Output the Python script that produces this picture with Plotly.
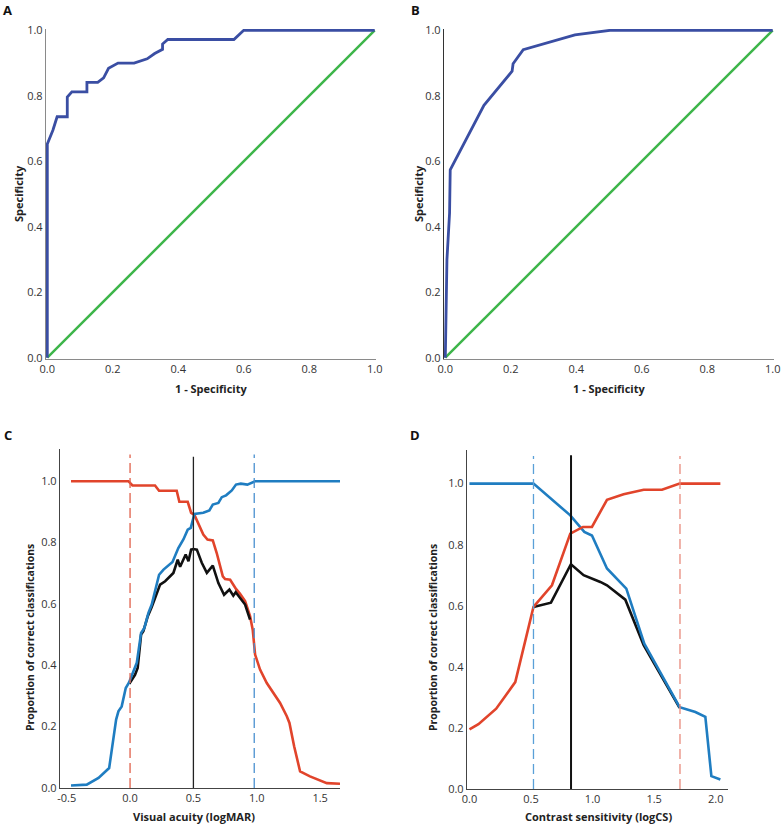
import plotly.graph_objects as go

# ---------------- Panel A (ROC) ----------------
a_x = [0.0, 0.0, 0.017, 0.030, 0.061, 0.061, 0.075, 0.121, 0.121, 0.154, 0.172, 0.187,
       0.216, 0.265, 0.305, 0.328, 0.352, 0.352, 0.368, 0.570, 0.600, 1.0]
a_y = [0.0, 0.653, 0.695, 0.736, 0.736, 0.796, 0.812, 0.812, 0.841, 0.841, 0.855, 0.884,
       0.900, 0.900, 0.913, 0.929, 0.942, 0.958, 0.972, 0.972, 1.0, 1.0]

# ---------------- Panel B (ROC) ----------------
b_x = [0.0, 0.005, 0.013, 0.015, 0.118, 0.204, 0.207, 0.238, 0.396, 0.503, 1.0]
b_y = [0.0, 0.30, 0.442, 0.574, 0.771, 0.875, 0.898, 0.941, 0.986, 1.0, 1.0]

ref_x = [0.0, 1.0]
ref_y = [0.0, 1.0]

# ---------------- Panel C (visual acuity, logMAR) ----------------
c_blue_x = [-0.466, -0.342, -0.249, -0.165, -0.110, -0.092, -0.066, -0.034, -0.008, 0.053,
            0.087, 0.113, 0.145, 0.171, 0.229, 0.264, 0.335, 0.381, 0.421, 0.455, 0.479,
            0.508, 0.578, 0.626, 0.653, 0.697, 0.724, 0.758, 0.803, 0.836, 0.874, 0.926,
            0.987, 1.657]
c_blue_y = [0.008, 0.011, 0.033, 0.065, 0.223, 0.250, 0.266, 0.326, 0.344, 0.408,
            0.505, 0.522, 0.571, 0.598, 0.695, 0.712, 0.737, 0.782, 0.810, 0.842, 0.848,
            0.893, 0.897, 0.905, 0.924, 0.929, 0.948, 0.954, 0.970, 0.989, 0.992, 0.989,
            1.0, 1.0]

c_red_x = [-0.466, -0.013, 0.019, 0.197, 0.229, 0.368, 0.389, 0.455, 0.482, 0.508, 0.578,
           0.611, 0.653, 0.684, 0.732, 0.750, 0.790, 0.836, 0.868, 0.908, 0.947, 0.968,
           0.987, 1.026, 1.079, 1.144, 1.184, 1.237, 1.258, 1.295, 1.342, 1.420, 1.553, 1.657]
c_red_y = [1.0, 1.0, 0.986, 0.986, 0.969, 0.969, 0.933, 0.933, 0.897, 0.890, 0.826,
           0.810, 0.807, 0.766, 0.690, 0.681, 0.679, 0.649, 0.633, 0.609, 0.560, 0.516,
           0.435, 0.386, 0.342, 0.299, 0.277, 0.234, 0.212, 0.136, 0.054, 0.038, 0.016, 0.014]

c_black_x = [-0.006, 0.039, 0.060, 0.087, 0.105, 0.140, 0.171, 0.237, 0.277, 0.342, 0.376,
             0.395, 0.439, 0.461, 0.482, 0.499, 0.527, 0.566, 0.606, 0.653, 0.697, 0.742,
             0.784, 0.815, 0.834, 0.868, 0.908, 0.947]
c_black_y = [0.340, 0.369, 0.391, 0.500, 0.511, 0.560, 0.590, 0.663, 0.674, 0.701, 0.744,
             0.721, 0.761, 0.739, 0.777, 0.779, 0.777, 0.734, 0.701, 0.725, 0.668, 0.630,
             0.647, 0.627, 0.638, 0.619, 0.598, 0.549]

c_thresholds = [0.0, 0.5, 0.98]   # red dashed, black solid, blue dashed

# ---------------- Panel D (contrast sensitivity, logCS) ----------------
d_blue_x = [0.0, 0.52, 0.819, 0.933, 0.995, 1.117, 1.274, 1.420, 1.707, 1.835, 1.916, 1.965, 2.038]
d_blue_y = [1.0, 1.0, 0.896, 0.842, 0.830, 0.722, 0.656, 0.476, 0.268, 0.252, 0.236, 0.042, 0.031]

d_red_x = [0.0, 0.073, 0.217, 0.372, 0.52, 0.670, 0.819, 0.922, 0.995, 1.117, 1.252, 1.415,
           1.564, 1.707, 2.038]
d_red_y = [0.195, 0.212, 0.263, 0.350, 0.596, 0.667, 0.836, 0.858, 0.858, 0.947, 0.965, 0.980,
           0.980, 1.0, 1.0]

d_black_x = [0.52, 0.662, 0.824, 0.927, 1.063, 1.117, 1.266, 1.415, 1.707]
d_black_y = [0.596, 0.610, 0.736, 0.700, 0.678, 0.667, 0.620, 0.471, 0.266]

d_thresholds = [0.52, 0.825, 1.71]   # blue dashed, black solid, red dashed

roc_ticks = [0.0, 0.2, 0.4, 0.6, 0.8, 1.0]
prop_ticks = [0.0, 0.2, 0.4, 0.6, 0.8, 1.0]
c_xticks = [-0.5, 0.0, 0.5, 1.0, 1.5]
d_xticks = [0.0, 0.5, 1.0, 1.5, 2.0]

ROC_BLUE = "#3a4ea3"
GREEN = "#3db54a"
BLUE = "#1f7dc1"
RED = "#e1442b"
BLACK = "#111111"
FONT = "Open Sans"

W, H = 784, 826


def px(v):
    return v / W


def py(v):
    return 1 - v / H


def fmt(vals):
    return ["%.1f" % v for v in vals]


fig = go.Figure()

# A
fig.add_trace(go.Scatter(x=ref_x, y=ref_y, mode="lines", line=dict(color=GREEN, width=2.5),
                         xaxis="x", yaxis="y", showlegend=False))
fig.add_trace(go.Scatter(x=a_x, y=a_y, mode="lines", line=dict(color=ROC_BLUE, width=2.8),
                         xaxis="x", yaxis="y", showlegend=False))
# B
fig.add_trace(go.Scatter(x=ref_x, y=ref_y, mode="lines", line=dict(color=GREEN, width=2.5),
                         xaxis="x2", yaxis="y2", showlegend=False))
fig.add_trace(go.Scatter(x=b_x, y=b_y, mode="lines", line=dict(color=ROC_BLUE, width=2.8),
                         xaxis="x2", yaxis="y2", showlegend=False))
# C
fig.add_trace(go.Scatter(x=c_red_x, y=c_red_y, mode="lines", line=dict(color=RED, width=2.6),
                         xaxis="x3", yaxis="y3", showlegend=False))
fig.add_trace(go.Scatter(x=c_black_x, y=c_black_y, mode="lines", line=dict(color=BLACK, width=2.6),
                         xaxis="x3", yaxis="y3", showlegend=False))
fig.add_trace(go.Scatter(x=c_blue_x, y=c_blue_y, mode="lines", line=dict(color=BLUE, width=2.6),
                         xaxis="x3", yaxis="y3", showlegend=False))
# D
fig.add_trace(go.Scatter(x=d_black_x, y=d_black_y, mode="lines", line=dict(color=BLACK, width=2.6),
                         xaxis="x4", yaxis="y4", showlegend=False))
fig.add_trace(go.Scatter(x=d_blue_x, y=d_blue_y, mode="lines", line=dict(color=BLUE, width=2.6),
                         xaxis="x4", yaxis="y4", showlegend=False))
fig.add_trace(go.Scatter(x=d_red_x, y=d_red_y, mode="lines", line=dict(color=RED, width=2.6),
                         xaxis="x4", yaxis="y4", showlegend=False))

# threshold lines
shapes = [
    dict(type="line", xref="x3", yref="y3", x0=c_thresholds[0], x1=c_thresholds[0], y0=0, y1=1.087,
         line=dict(color="#e0604a", width=1.3, dash="10px,5px")),
    dict(type="line", xref="x3", yref="y3", x0=c_thresholds[1], x1=c_thresholds[1], y0=0, y1=1.08,
         line=dict(color="#222222", width=1.3)),
    dict(type="line", xref="x3", yref="y3", x0=c_thresholds[2], x1=c_thresholds[2], y0=0, y1=1.087,
         line=dict(color="#4a90d0", width=1.3, dash="10px,5px")),
    dict(type="line", xref="x4", yref="y4", x0=d_thresholds[0], x1=d_thresholds[0], y0=0, y1=1.09,
         line=dict(color="#5aa0d8", width=1.3, dash="10px,5px")),
    dict(type="line", xref="x4", yref="y4", x0=d_thresholds[1], x1=d_thresholds[1], y0=0, y1=1.093,
         line=dict(color="#111111", width=2)),
    dict(type="line", xref="x4", yref="y4", x0=d_thresholds[2], x1=d_thresholds[2], y0=0, y1=1.09,
         line=dict(color="#e88a7c", width=1.3, dash="10px,5px")),
]

tickfont = dict(family=FONT, size=11, color="#333333")
axcommon = dict(showgrid=False, zeroline=False, ticks="", showline=True, linewidth=1.3,
                tickfont=tickfont, automargin=False)

fig.update_layout(
    width=W, height=H, margin=dict(l=0, r=0, t=0, b=0),
    paper_bgcolor="white", plot_bgcolor="white",
    shapes=shapes,
    xaxis=dict(domain=[px(46), px(376)], range=[-0.004, 1.004], tickvals=roc_ticks,
               ticktext=fmt(roc_ticks), linecolor="#8a8a8a", anchor="y", **axcommon),
    yaxis=dict(domain=[py(359), py(29)], range=[-0.004, 1.004], tickvals=roc_ticks,
               ticktext=fmt(roc_ticks), linecolor="#8a8a8a", anchor="x", **axcommon),
    xaxis2=dict(domain=[px(444), px(774)], range=[-0.004, 1.004], tickvals=roc_ticks,
                ticktext=fmt(roc_ticks), linecolor="#8a8a8a", anchor="y2", **axcommon),
    yaxis2=dict(domain=[py(359), py(29)], range=[-0.004, 1.004], tickvals=roc_ticks,
                ticktext=fmt(roc_ticks), linecolor="#333333", anchor="x2", **axcommon),
    xaxis3=dict(domain=[px(60), px(340)], range=[-0.553, 1.657], tickvals=c_xticks,
                ticktext=fmt(c_xticks), linecolor="#444444", anchor="y3", **axcommon),
    yaxis3=dict(domain=[py(788), py(449)], range=[0, 1.105], tickvals=prop_ticks,
                ticktext=fmt(prop_ticks), linecolor="#444444", anchor="x3", **axcommon),
    xaxis4=dict(domain=[px(467), px(728)], range=[-0.02, 2.1], tickvals=d_xticks,
                ticktext=fmt(d_xticks), linecolor="#444444", anchor="y4", **axcommon),
    yaxis4=dict(domain=[py(789), py(450)], range=[0, 1.11], tickvals=prop_ticks,
                ticktext=fmt(prop_ticks), linecolor="#444444", anchor="x4", **axcommon),
)

title_font = dict(family=FONT, size=11, color="#222222")
prop_font = dict(family=FONT, size=10.5, color="#222222")
label_font = dict(family=FONT, size=13, color="#111111")
annotations = [
    dict(text="<b>A</b>", x=px(8), y=1.0, xanchor="center", yanchor="top", font=label_font,
         borderpad=0),
    dict(text="<b>B</b>", x=px(415), y=1.0, xanchor="center", yanchor="top", font=label_font,
         borderpad=0),
    dict(text="<b>C</b>", x=px(8), y=py(425), xanchor="center", yanchor="top", font=label_font,
         borderpad=0),
    dict(text="<b>D</b>", x=px(415), y=py(425), xanchor="center", yanchor="top", font=label_font,
         borderpad=0),
    dict(text="<b>1 - Specificity</b>", x=px(211), y=py(388), xanchor="center", yanchor="middle",
         font=title_font),
    dict(text="<b>1 - Specificity</b>", x=px(609), y=py(388), xanchor="center", yanchor="middle",
         font=title_font),
    dict(text="<b>Specificity</b>", x=px(18), y=py(194), textangle=-90, xanchor="center",
         yanchor="middle", font=title_font),
    dict(text="<b>Specificity</b>", x=px(418), y=py(194), textangle=-90, xanchor="center",
         yanchor="middle", font=title_font),
    dict(text="<b>Visual acuity (logMAR)</b>", x=px(194), y=py(816), xanchor="center",
         yanchor="middle", font=title_font),
    dict(text="<b>Contrast sensitivity (logCS)</b>", x=px(598), y=py(816), xanchor="center",
         yanchor="middle", font=title_font),
    dict(text="<b>Proportion of correct classifications</b>", x=px(30), y=py(638), textangle=-90,
         xanchor="center", yanchor="middle", font=prop_font),
    dict(text="<b>Proportion of correct classifications</b>", x=px(433), y=py(638), textangle=-90,
         xanchor="center", yanchor="middle", font=prop_font),
]
for a in annotations:
    a.update(xref="paper", yref="paper", showarrow=False)
fig.update_layout(annotations=annotations)

fig.write_html("out.html", config={"displayModeBar": False},
               post_script="document.body.style.margin='0';document.body.style.overflow='hidden';")
